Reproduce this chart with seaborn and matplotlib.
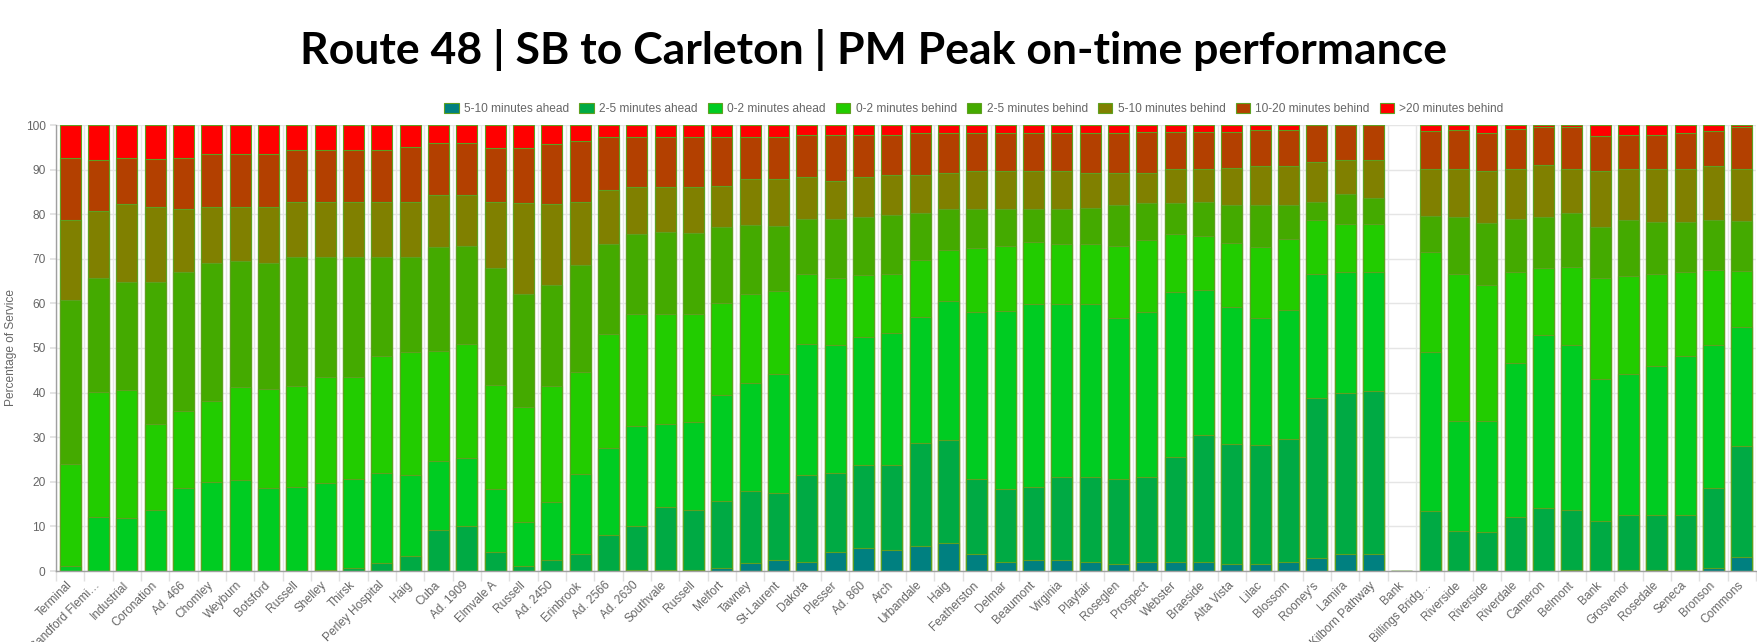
import numpy as np
import pandas as pd
import matplotlib.pyplot as plt
from matplotlib.patches import Patch
import seaborn as sns

stops = ["Terminal", "Sandford Flemi…", "Industrial", "Coronation", "Ad. 466", "Chomley",
         "Weyburn", "Botsford", "Russell", "Shelley", "Thirsk", "Perley Hospital", "Haig",
         "Cuba", "Ad. 1909", "Elmvale A", "Russell", "Ad. 2450", "Erinbrook", "Ad. 2566",
         "Ad. 2630", "Southvale", "Russell", "Melfort", "Tawney", "St-Laurent", "Dakota",
         "Plesser", "Ad. 860", "Arch", "Urbandale", "Haig", "Featherston", "Delmar",
         "Beaumont", "Virginia", "Playfair", "Roseglen", "Prospect", "Webster", "Braeside",
         "Alta Vista", "Lilac", "Blossom", "Rooney's", "Lamira", "Kilborn Pathway", "Bank",
         "Billings Bridg…", "Riverside", "Riverside", "Riverdale", "Cameron", "Belmont",
         "Bank", "Grosvenor", "Rosedale", "Seneca", "Bronson", "Commons"]

ahead_5_10 = [0, 0, 0, 0, 0, 0, 0, 0, 0, 0, 0, 0, 0, 0, 0, 0, 0, 0, 0, 0,
              0.3, 0.3, 0.3, 0.7, 1.7, 2.5, 2.1, 4.3, 5.2, 4.8, 5.7, 6.2, 3.9, 2.1, 2.5, 2.5, 2.1, 1.6, 2.1, 2.1,
              2.1, 1.6, 1.6, 2.1, 3.0, 3.9, 3.9, 0, 0, 0, 0, 0, 0, 0.3, 0, 0.3, 0.3, 0.3, 0.7, 3.2]
ahead_2_5 = [0, 0, 0, 0, 0, 0, 0, 0, 0, 0.3, 0.7, 1.7, 3.4, 9.3, 10.2, 4.3, 1.2, 2.5, 3.9, 8.0,
             9.9, 14.0, 13.4, 15.1, 16.2, 15.1, 19.5, 17.6, 18.5, 18.9, 22.9, 23.2, 16.7, 16.3, 16.3, 18.6, 19.0, 19.0, 19.0, 23.5,
             28.5, 26.9, 26.7, 27.6, 35.7, 36.1, 36.5, 0, 13.5, 9.0, 8.7, 12.1, 14.1, 13.4, 11.2, 12.3, 12.3, 12.3, 17.9, 24.8]
ahead_0_2 = [1.2, 12.0, 11.8, 13.7, 18.7, 19.9, 20.4, 18.7, 18.8, 19.4, 19.9, 20.2, 18.1, 15.4, 15.2, 14.0, 9.8, 13.0, 17.8, 19.5,
             22.3, 18.6, 19.8, 23.7, 24.3, 26.6, 29.3, 28.8, 28.8, 29.6, 28.4, 31.1, 37.5, 40.0, 41.0, 38.7, 38.7, 36.1, 37.0, 36.9,
             32.3, 30.8, 28.4, 28.8, 28.0, 27.0, 26.6, 0, 35.5, 24.7, 25.0, 34.6, 38.8, 37.0, 31.8, 31.6, 33.4, 35.6, 32.1, 26.6]
behind_0_2 = [22.7, 28.2, 28.8, 19.3, 17.2, 18.3, 20.8, 22.1, 22.6, 23.9, 23.0, 26.2, 27.5, 24.7, 25.4, 23.4, 25.8, 25.9, 22.9, 25.6,
              25.1, 24.7, 24.2, 20.5, 19.8, 18.6, 15.8, 15.1, 13.8, 13.4, 12.8, 11.5, 14.4, 14.5, 14.0, 13.6, 13.6, 16.2, 16.1, 13.1,
              12.3, 14.3, 15.9, 15.9, 12.0, 10.7, 10.7, 0, 22.6, 33.0, 30.4, 20.3, 15.1, 17.5, 22.6, 21.9, 20.5, 18.8, 16.9, 12.7]
behind_2_5 = [36.9, 25.6, 24.1, 31.7, 31.1, 30.8, 28.2, 28.2, 28.9, 26.7, 26.7, 22.2, 21.3, 23.2, 22.1, 26.2, 25.3, 22.7, 23.9, 20.2,
              17.9, 18.3, 18.0, 17.1, 15.5, 14.6, 12.2, 13.1, 13.1, 13.1, 10.4, 9.1, 8.6, 8.2, 7.3, 7.7, 8.1, 9.1, 8.2, 6.8,
              7.6, 8.5, 9.5, 7.7, 4.0, 6.8, 5.9, 0, 8.1, 12.6, 13.9, 11.9, 11.3, 12.0, 11.5, 12.6, 11.8, 11.3, 11.1, 11.1]
behind_5_10 = [17.9, 14.9, 17.5, 17.0, 14.2, 12.7, 12.3, 12.7, 12.5, 12.5, 12.5, 12.5, 12.5, 11.6, 11.5, 14.8, 20.5, 18.1, 14.2, 12.1,
               10.7, 10.3, 10.3, 9.3, 10.3, 10.4, 9.4, 8.5, 8.9, 8.9, 8.5, 8.1, 8.5, 8.5, 8.5, 8.5, 7.7, 7.2, 6.8, 7.7,
               7.3, 8.2, 8.6, 8.6, 8.9, 7.6, 8.5, 0, 10.4, 10.8, 11.6, 11.2, 11.7, 9.9, 12.6, 11.4, 11.8, 11.8, 12.0, 11.7]
behind_10_20 = [14.0, 11.5, 10.4, 10.6, 11.5, 11.7, 11.7, 11.7, 11.7, 11.7, 11.7, 11.7, 12.2, 11.7, 11.6, 12.2, 12.3, 13.5, 13.8, 11.8,
                11.0, 11.0, 11.2, 10.8, 9.4, 9.4, 9.5, 10.4, 9.5, 9.1, 9.4, 8.9, 8.5, 8.5, 8.5, 8.5, 8.9, 8.9, 9.3, 8.4,
                8.4, 8.2, 8.2, 8.2, 8.4, 7.9, 7.9, 0, 8.6, 8.7, 8.7, 9.1, 8.6, 9.5, 7.8, 7.7, 7.7, 8.2, 8.0, 9.4]
behind_20 = [7.3, 7.8, 7.4, 7.7, 7.3, 6.6, 6.6, 6.6, 5.5, 5.5, 5.5, 5.5, 5.0, 4.1, 4.0, 5.1, 5.1, 4.3, 3.5, 2.8,
             2.8, 2.8, 2.8, 2.8, 2.8, 2.8, 2.2, 2.2, 2.2, 2.2, 1.9, 1.9, 1.9, 1.9, 1.9, 1.9, 1.9, 1.9, 1.5, 1.5,
             1.5, 1.5, 1.1, 1.1, 0, 0, 0, 0, 1.3, 1.2, 1.7, 0.8, 0.4, 0.4, 2.5, 2.2, 2.2, 1.7, 1.3, 0.5]

series = ["5-10 minutes ahead", "2-5 minutes ahead", "0-2 minutes ahead", "0-2 minutes behind",
          "2-5 minutes behind", "5-10 minutes behind", "10-20 minutes behind", ">20 minutes behind"]
colors = ["#008080", "#00aa44", "#00cc22", "#22cc00", "#44aa00", "#808000", "#b34000", "#ff0000"]

values = np.array([ahead_5_10, ahead_2_5, ahead_0_2, behind_0_2,
                   behind_2_5, behind_5_10, behind_10_20, behind_20])
cum = np.cumsum(values, axis=0)
df = pd.DataFrame(cum.T, columns=series)
df["pos"] = np.arange(len(stops))

sns.set_theme(style="white")
plt.rcParams["font.family"] = ["Liberation Sans", "DejaVu Sans"]

fig = plt.figure(figsize=(17.58, 6.42), dpi=100)
ax = fig.add_axes([56 / 1758, 1 - 571 / 642, 1700 / 1758, 446 / 642])

edge = "#5fa020"
# stack by overdrawing cumulative totals from the top layer down
for i in reversed(range(len(series))):
    sns.barplot(data=df, x="pos", y=series[i], color=colors[i], saturation=1,
                width=0.73, edgecolor=edge, linewidth=0.8, ax=ax)

ax.set_xlim(-0.5, len(stops) - 0.5)
ax.set_ylim(0, 100)
ax.set_axisbelow(True)
ax.set_yticks(np.arange(0, 101, 10))
ax.yaxis.grid(True, color="#e5e5e5", linewidth=1)
ax.set_xticks(np.arange(len(stops)))
ax.set_xticklabels(stops, rotation=45, ha="right", va="center", rotation_mode="anchor")
ax.set_xticks(np.arange(-0.5, len(stops)), minor=True)
ax.xaxis.grid(True, which="minor", color="#e5e5e5", linewidth=1)
ax.tick_params(axis="x", which="major", length=0, pad=9, labelsize=8.6, labelcolor="#666666")
ax.tick_params(axis="x", which="minor", length=7, color="#e0e0e0", width=1, bottom=True)
ax.tick_params(axis="y", length=4.5, color="#e0e0e0", pad=3, labelsize=8.6, labelcolor="#666666", left=True)
ax.set_xlabel("")
ax.set_ylabel("Percentage of Service", fontsize=8.6, color="#666666", labelpad=6)
for s in ["top", "right"]:
    ax.spines[s].set_visible(False)
for s in ["left", "bottom"]:
    ax.spines[s].set_color("#a0a0a0")
    ax.spines[s].set_linewidth(1)

handles = [Patch(facecolor=c, edgecolor=edge, linewidth=0.8, label=s) for s, c in zip(series, colors)]
fig.legend(handles=handles, loc="center", bbox_to_anchor=(974 / 1758, 1 - 109 / 642), ncol=8,
           frameon=False, fontsize=8.6, handlelength=1.2, handleheight=0.9, handletextpad=0.45,
           columnspacing=0.85, labelcolor="#666666")

fig.text(0.497, 0.922, "Route 48 | SB to Carleton | PM Peak on-time performance",
         fontsize=32, fontweight="bold", color="black", family=["Lato", "DejaVu Sans"],
         ha="center", va="center")

fig.savefig("out.png", dpi=100)
